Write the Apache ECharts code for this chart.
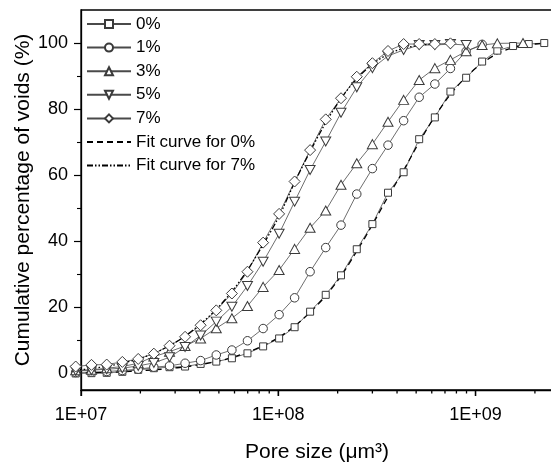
<!DOCTYPE html>
<html>
<head>
<meta charset="utf-8">
<script src="https://cdn.jsdelivr.net/npm/echarts@6/dist/echarts.min.js"></script>
<style>html,body{margin:0;padding:0;background:#fff;}#c{width:551px;height:462px;}</style>
</head>
<body>
<div id="c"></div>
<script>
// Pore size (um^3) grid
var poreSize = [9.4e6, 1.13e7, 1.35e7, 1.62e7, 1.95e7, 2.34e7, 2.81e7, 3.37e7, 4.04e7, 4.85e7,
  5.82e7, 6.98e7, 8.38e7, 1.01e8, 1.21e8, 1.45e8, 1.74e8, 2.08e8, 2.50e8, 3.00e8,
  3.60e8, 4.32e8, 5.18e8, 6.22e8, 7.46e8, 8.96e8, 1.08e9, 1.29e9, 1.55e9, 1.86e9, 2.23e9];
var poreSize3 = [9.4e6, 1.13e7, 1.35e7, 1.62e7, 1.95e7, 2.34e7, 2.81e7, 3.37e7, 4.04e7, 4.85e7,
  5.82e7, 6.98e7, 8.38e7, 1.01e8, 1.21e8, 1.45e8, 1.74e8, 2.08e8, 2.50e8, 3.00e8,
  3.60e8, 4.32e8, 5.18e8, 6.22e8, 7.46e8, 8.96e8, 1.08e9, 1.29e9, 1.74e9];

var p0 = [0.0, 0.1, 0.2, 0.5, 1.1, 1.6, 1.9, 2.1, 2.9, 3.6, 4.6, 6.1, 8.2, 10.6, 14.0, 18.7, 23.8, 29.7, 37.6, 45.2,
  54.7, 60.9, 70.9, 77.5, 85.3, 89.5, 94.4, 97.7, 99.1, 99.7, 100];
var p1 = [0.3, 0.4, 0.6, 0.9, 1.3, 1.9, 2.3, 3.1, 3.9, 5.6, 7.1, 9.9, 13.6, 17.8, 22.9, 30.8, 38.1, 44.9, 54.3, 62.0,
  69.1, 76.5, 83.6, 87.6, 92.3, 97.5, 99.6];
var p3 = [1.0, 1.1, 1.6, 2.1, 3.1, 5.1, 6.6, 8.3, 10.6, 13.7, 16.7, 20.4, 26.2, 31.3, 37.7, 44.1, 49.3, 57.1, 63.6, 69.4,
  76.2, 82.8, 88.8, 92.4, 94.9, 97.5, 99.4, 99.9, 100];
var p5 = [0.8, 1.0, 1.3, 1.6, 2.3, 3.2, 4.9, 8.0, 11.5, 15.7, 20.2, 26.5, 33.8, 42.3, 52.0, 61.6, 70.2, 78.9, 86.6, 92.4,
  96.1, 97.9, 99.4, 99.4, 99.7, 99.4];
var p7 = [2.1, 2.6, 2.7, 3.5, 4.4, 6.0, 8.4, 11.1, 14.6, 19.1, 24.2, 30.8, 39.6, 48.3, 58.1, 67.6, 76.9, 83.3, 89.8, 93.9,
  97.6, 99.7, 99.7, 99.7, 99.9];
var fit0 = [0.1, 0.2, 0.3, 0.5, 0.8, 1.1, 1.5, 2.0, 2.7, 3.6, 4.8, 6.4, 8.4, 11.0, 14.3, 18.5, 23.5, 29.5, 37.0, 45.0,
  53.5, 61.5, 70.0, 77.8, 84.5, 89.8, 93.9, 96.8, 98.6, 99.5, 99.9];
var fit7 = [1.0, 1.5, 2.2, 3.1, 4.4, 6.1, 8.4, 11.3, 15.0, 19.4, 24.8, 31.3, 39.0, 47.6, 57.8, 67.2, 75.9, 83.2, 89.2, 93.6,
  96.6, 98.4, 99.3, 99.8];

var seriesNames = ['0%', '1%', '3%', '5%', '7%', 'Fit curve for 0%', 'Fit curve for 7%'];
var xMajor = [1e7, 1e8, 1e9];
var xMinor = [2e7, 3e7, 4e7, 5e7, 6e7, 7e7, 8e7, 9e7, 2e8, 3e8, 4e8, 5e8, 6e8, 7e8, 8e8, 9e8, 2e9];
var yMajor = [0, 20, 40, 60, 80, 100];
var yMinor = [10, 30, 50, 70, 90];
var X_MIN = 1e7, X_MAX = 2.47e9, Y_MIN = -5, Y_MAX = 110;

function pairs(xs, ys) { return ys.map(function (v, i) { return [xs[i], v]; }); }

var FONT = 'Liberation Sans, Arial, sans-serif';
var markerStyle = { color: '#fff', borderColor: '#3a3a3a', borderWidth: 1 };
var dataLine = { color: '#4a4a4a', width: 0.8 };

function dataSeries(name, ys, xs, symbol, size, rotate) {
  return {
    name: name, type: 'line', data: pairs(xs, ys), symbol: symbol, symbolSize: size,
    symbolRotate: rotate || 0, showAllSymbol: true, clip: false,
    lineStyle: dataLine, itemStyle: markerStyle, emphasis: { disabled: true }
  };
}
// x-axis tick marks on the bottom edge, positioned through the axis scale
function tickSeries(values, len) {
  return {
    type: 'custom', data: values.map(function (v) { return [v, Y_MIN]; }), clip: false, silent: true, z: 10,
    encode: { x: 0, y: 1 },
    renderItem: function (params, api) {
      var p = api.coord([api.value(0), api.value(1)]);
      return {
        type: 'line', z2: 100,
        shape: { x1: p[0], y1: p[1], x2: p[0], y2: p[1] + len },
        style: { stroke: '#000', lineWidth: 1.3 }
      };
    }
  };
}

var chart = echarts.init(document.getElementById('c'), null, { renderer: 'canvas' });
chart.setOption({
  animation: false,
  backgroundColor: '#fff',
  textStyle: { fontFamily: FONT },
  grid: { left: 81, right: -2, top: 10, bottom: 72, containLabel: false, outerBoundsMode: 'none',
    show: true, borderColor: '#000', borderWidth: 1.3, backgroundColor: 'transparent' },
  legend: {
    data: seriesNames, orient: 'vertical', left: 86, top: 15.5, itemWidth: 44, itemHeight: 10,
    itemGap: 6.6, textStyle: { fontSize: 17, color: '#000', fontFamily: FONT }, padding: 0
  },
  xAxis: [{
    type: 'log', logBase: 10, min: X_MIN, max: X_MAX, position: 'bottom',
    axisLine: { show: true, onZero: false, lineStyle: { color: '#000', width: 1.3 } },
    axisTick: { show: true, inside: false, length: 6, lineStyle: { color: '#000', width: 1.3 } },
    axisLabel: { customValues: xMajor, margin: 16, fontSize: 18, color: '#000', fontFamily: FONT,
      formatter: function (v) { return '1E+0' + Math.round(Math.log10(v)); } },
    splitLine: { show: false },
    name: 'Pore size (\u03bcm\u00b3)', nameLocation: 'middle', nameGap: 52, nameMoveOverlap: false,
    nameTextStyle: { fontSize: 21, color: '#000', fontFamily: FONT }
  }],
  yAxis: [{
    type: 'value', min: Y_MIN, max: Y_MAX, position: 'left',
    axisLine: { show: true, onZero: false, lineStyle: { color: '#000', width: 1.3 } },
    axisTick: { show: true, inside: false, length: 7, customValues: yMajor, lineStyle: { color: '#000', width: 1.2 } },
    axisLabel: { customValues: yMajor, margin: 13, fontSize: 18, color: '#000', fontFamily: FONT },
    splitLine: { show: false },
    name: 'Cumulative percentage of voids (%)', nameLocation: 'middle', nameGap: 47, nameMoveOverlap: false,
    nameTextStyle: { fontSize: 21, color: '#000', fontFamily: FONT }
  }, {
    type: 'value', min: Y_MIN, max: Y_MAX, position: 'left',
    axisLine: { show: false, onZero: false },
    axisTick: { show: true, inside: false, length: 4, customValues: yMinor, lineStyle: { color: '#000', width: 1.1 } },
    axisLabel: { show: false }, splitLine: { show: false }
  }],
  series: [
    dataSeries('0%', p0, poreSize, 'rect', 7),
    dataSeries('1%', p1, poreSize, 'circle', 8.5),
    dataSeries('3%', p3, poreSize3, 'triangle', [10, 9]),
    dataSeries('5%', p5, poreSize, 'triangle', [10, 9], 180),
    dataSeries('7%', p7, poreSize, 'diamond', [11, 11]),
    {
      name: 'Fit curve for 0%', type: 'line', data: pairs(poreSize, fit0), symbol: 'none', smooth: 0.3, clip: false,
      lineStyle: { color: '#000', width: 1.3, type: [6, 4] }, itemStyle: { color: '#000', opacity: 0 }, emphasis: { disabled: true }
    },
    {
      name: 'Fit curve for 7%', type: 'line', data: pairs(poreSize, fit7), symbol: 'none', smooth: 0.3, clip: false,
      lineStyle: { color: '#000', width: 1.3, type: [6, 2, 1.5, 2, 1.5, 2] }, itemStyle: { color: '#000', opacity: 0 }, emphasis: { disabled: true }
    },
    tickSeries(xMajor, 6),
    tickSeries(xMinor, 3.5)
  ]
});
</script>
</body>
</html>
